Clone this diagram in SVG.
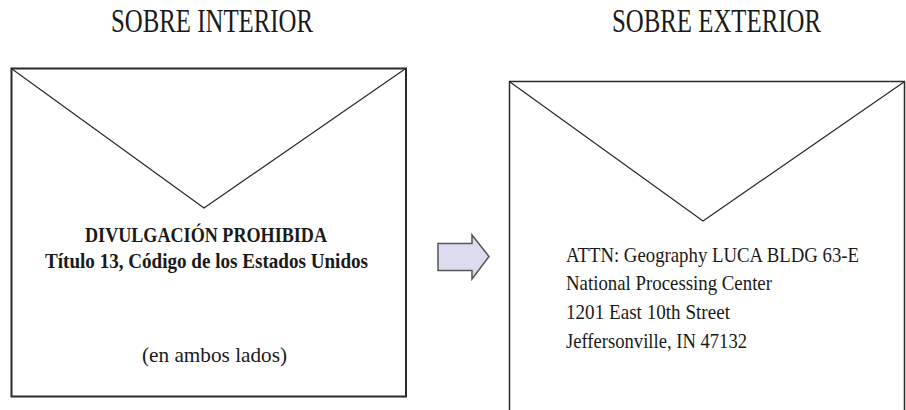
<svg xmlns="http://www.w3.org/2000/svg" width="906" height="410" viewBox="0 0 906 410">
<style>
text{font-family:"Liberation Serif","Times New Roman",serif;fill:#1a1a1a}
.title{font-size:33px}
.body{font-size:22px}
.bold{font-size:21px;font-weight:bold}
.env{fill:#fff;stroke:#2a2a2a}
.flap{fill:none;stroke:#2a2a2a;stroke-width:1.2}
</style>
<rect width="906" height="410" fill="#fff"/>
<text class="title" x="212" y="32" text-anchor="middle" textLength="202" lengthAdjust="spacingAndGlyphs">SOBRE INTERIOR</text>
<text class="title" x="716.5" y="32" text-anchor="middle" textLength="209" lengthAdjust="spacingAndGlyphs">SOBRE EXTERIOR</text>
<g id="inner-envelope">
<rect class="env" x="11.5" y="68.5" width="394.5" height="328" stroke-width="2"/>
<polyline class="flap" points="12,69 204,208 405,69"/>
<text class="bold" x="206" y="242" text-anchor="middle" textLength="242" lengthAdjust="spacingAndGlyphs">DIVULGACIÓN PROHIBIDA</text>
<text class="bold" x="206.5" y="268" text-anchor="middle" textLength="323" lengthAdjust="spacingAndGlyphs">Título 13, Código de los Estados Unidos</text>
<text class="body" x="214.5" y="362" text-anchor="middle" textLength="145" lengthAdjust="spacingAndGlyphs">(en ambos lados)</text>
</g>
<g id="connectors">
<polygon points="438,243.5 472,243.5 472,235 489,256.5 472,279 472,270.5 438,270.5" fill="#dcdcf0" stroke="#555" stroke-width="1.5"/>
</g>
<g id="outer-envelope">
<rect class="env" x="509.5" y="81.5" width="395" height="330" stroke-width="1.5"/>
<polyline class="flap" points="510,82 703,221 904,82"/>
<text class="body" x="566" y="262" textLength="293" lengthAdjust="spacingAndGlyphs">ATTN: Geography LUCA BLDG 63-E</text>
<text class="body" x="566" y="290" textLength="206" lengthAdjust="spacingAndGlyphs">National Processing Center</text>
<text class="body" x="566" y="319" textLength="164" lengthAdjust="spacingAndGlyphs">1201 East 10th Street</text>
<text class="body" x="566" y="348" textLength="181" lengthAdjust="spacingAndGlyphs">Jeffersonville, IN 47132</text>
</g>
</svg>
